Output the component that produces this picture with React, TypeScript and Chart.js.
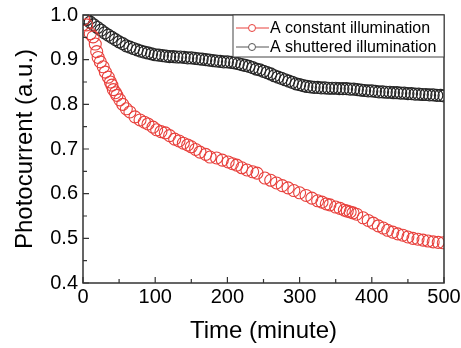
import React, { useEffect, useRef } from "react";
import { Chart, registerables } from "chart.js";

Chart.register(...registerables);

const constantX = [1, 5, 10, 14, 17, 19, 21, 24, 28, 31, 35, 38, 40, 42, 45, 47, 51, 55, 60, 65, 72, 79, 85, 90, 97, 102, 108, 114, 120, 127, 133, 139, 145, 150, 156, 162, 170, 176, 185, 193, 201, 207, 213, 220, 227, 235, 241, 252, 260, 268, 276, 284, 292, 300, 309, 317, 325, 331, 337, 342, 350, 356, 362, 366, 370, 374, 379, 388, 395, 402, 409, 416, 422, 429, 436, 443, 450, 457, 464, 471, 478, 485, 492, 499];
const constantY = [0.99, 0.978, 0.958, 0.951, 0.935, 0.918, 0.905, 0.895, 0.884, 0.872, 0.861, 0.85, 0.843, 0.833, 0.826, 0.82, 0.81, 0.8, 0.79, 0.783, 0.772, 0.765, 0.76, 0.756, 0.749, 0.743, 0.739, 0.736, 0.73, 0.722, 0.718, 0.713, 0.709, 0.705, 0.699, 0.693, 0.688, 0.682, 0.68, 0.675, 0.671, 0.667, 0.664, 0.658, 0.653, 0.649, 0.646, 0.635, 0.63, 0.624, 0.618, 0.613, 0.607, 0.602, 0.596, 0.59, 0.584, 0.581, 0.577, 0.575, 0.57, 0.567, 0.563, 0.561, 0.559, 0.557, 0.554, 0.546, 0.54, 0.534, 0.528, 0.523, 0.518, 0.514, 0.51, 0.507, 0.503, 0.5, 0.498, 0.496, 0.494, 0.492, 0.491, 0.49];

const shutteredX = [3, 5, 10, 15, 20, 25, 30, 35, 40, 45, 50, 55, 60, 65, 70, 75, 80, 85, 90, 95, 100, 105, 110, 115, 120, 125, 130, 135, 140, 145, 150, 155, 160, 165, 170, 175, 180, 185, 190, 195, 200, 205, 210, 215, 220, 225, 230, 235, 240, 245, 250, 255, 260, 265, 270, 275, 280, 285, 290, 295, 300, 305, 310, 315, 320, 325, 330, 335, 340, 345, 350, 355, 360, 365, 370, 375, 380, 385, 390, 395, 400, 405, 410, 415, 420, 425, 430, 435, 440, 445, 450, 455, 460, 465, 470, 475, 480, 485, 490, 495, 500];
const shutteredY = [0.993, 0.99, 0.984, 0.978, 0.972, 0.966, 0.96, 0.955, 0.95, 0.945, 0.94, 0.936, 0.931, 0.928, 0.925, 0.922, 0.919, 0.917, 0.915, 0.913, 0.911, 0.91, 0.909, 0.908, 0.907, 0.907, 0.906, 0.906, 0.905, 0.904, 0.904, 0.903, 0.902, 0.901, 0.9, 0.899, 0.898, 0.897, 0.896, 0.895, 0.895, 0.894, 0.893, 0.891, 0.889, 0.887, 0.885, 0.882, 0.879, 0.877, 0.874, 0.871, 0.868, 0.864, 0.861, 0.858, 0.855, 0.852, 0.849, 0.846, 0.844, 0.842, 0.84, 0.839, 0.838, 0.838, 0.837, 0.837, 0.836, 0.836, 0.836, 0.835, 0.835, 0.835, 0.834, 0.834, 0.833, 0.832, 0.831, 0.83, 0.83, 0.829, 0.828, 0.828, 0.827, 0.827, 0.826, 0.826, 0.825, 0.825, 0.824, 0.824, 0.823, 0.823, 0.822, 0.822, 0.821, 0.821, 0.82, 0.82, 0.819];

const seriesNames = ["A constant illumination", "A shuttered illumination"];
const xTitle = "Time (minute)";
const yTitle = "Photocurrent (a.u.)";

const RED = "#e8403c";
const DARK = "#262626";
const FONT = "'Liberation Sans', Arial, sans-serif";

const framePlugin = {
  id: "frame",
  afterDatasetsDraw(chart: any) {
    const { ctx, chartArea } = chart;
    const { left, right, top, bottom } = chartArea;
    const xs = chart.scales.x;
    const ys = chart.scales.y;
    ctx.save();
    ctx.strokeStyle = "#333";
    ctx.lineWidth = 1.5;
    ctx.strokeRect(left, top, right - left, bottom - top);
    ctx.lineWidth = 1.2;
    ctx.beginPath();
    for (let v = 0; v <= 500; v += 50) {
      const px = xs.getPixelForValue(v);
      const len = v % 100 === 0 ? 6 : 4;
      ctx.moveTo(px, bottom);
      ctx.lineTo(px, bottom - len);
    }
    for (let i = 0; i <= 12; i++) {
      const v = 0.4 + i * 0.05;
      const py = ys.getPixelForValue(v);
      const len = i % 2 === 0 ? 6 : 4;
      ctx.moveTo(left, py);
      ctx.lineTo(left + len, py);
    }
    ctx.stroke();

    // legend
    const bx = right - 211;
    const by = top;
    const bw = 211;
    const bh = 42;
    ctx.fillStyle = "#fff";
    ctx.fillRect(bx, by, bw, bh);
    ctx.lineWidth = 1;
    ctx.strokeStyle = "#444";
    ctx.strokeRect(bx, by, bw, bh);
    const rows = [
      { name: seriesNames[0], color: RED, y: by + 13 },
      { name: seriesNames[1], color: "#555", y: by + 32 },
    ];
    ctx.font = `16px ${FONT}`;
    ctx.textBaseline = "middle";
    ctx.textAlign = "left";
    for (const r of rows) {
      ctx.strokeStyle = r.color;
      ctx.lineWidth = 1;
      ctx.beginPath();
      ctx.moveTo(bx + 3, r.y);
      ctx.lineTo(bx + 15, r.y);
      ctx.moveTo(bx + 23, r.y);
      ctx.lineTo(bx + 36, r.y);
      ctx.stroke();
      ctx.beginPath();
      ctx.arc(bx + 19, r.y, 3.5, 0, Math.PI * 2);
      ctx.stroke();
      ctx.fillStyle = "#000";
      ctx.fillText(r.name, bx + 37, r.y + 1);
    }
    ctx.restore();
  },
};

export default function App() {
  const ref = useRef<HTMLCanvasElement>(null);
  useEffect(() => {
    document.body.style.margin = "0";
    const canvas = ref.current!;
    const chart = new Chart(canvas, {
      type: "scatter",
      data: {
        datasets: [
          {
            label: seriesNames[0],
            data: constantX.map((x, i) => ({ x, y: constantY[i] })),
            borderColor: RED,
            backgroundColor: "rgba(0,0,0,0)",
            pointRadius: 6,
            pointBorderWidth: 1.1,
            showLine: false,
            order: 1,
          },
          {
            label: seriesNames[1],
            data: shutteredX.map((x, i) => ({ x, y: shutteredY[i] })),
            borderColor: DARK,
            backgroundColor: "rgba(0,0,0,0)",
            pointRadius: 6,
            pointBorderWidth: 1.2,
            showLine: false,
            order: 2,
          },
        ],
      },
      options: {
        animation: false,
        responsive: false,
        devicePixelRatio: 1,
        layout: { padding: { top: 15, right: 17, left: 0, bottom: 0 } },
        plugins: { legend: { display: false }, tooltip: { enabled: false } },
        scales: {
          x: {
            type: "linear",
            min: 0,
            max: 500,
            grid: { display: false, drawTicks: false },
            border: { display: false },
            ticks: {
              stepSize: 100,
              padding: 2,
              color: "#000",
              font: { family: FONT, size: 20 },
              maxRotation: 0,
            },
            title: {
              display: true,
              text: xTitle,
              color: "#000",
              font: { family: FONT, size: 24 },
              padding: { top: 0, bottom: 2 },
            },
            afterFit(scale: any) {
              scale.height = 65;
              scale.paddingLeft = 0;
              scale.paddingRight = 0;
            },
          },
          y: {
            type: "linear",
            min: 0.4,
            max: 1.0,
            grid: { display: false, drawTicks: false },
            border: { display: false },
            ticks: {
              stepSize: 0.1,
              padding: 5,
              color: "#000",
              font: { family: FONT, size: 20 },
              callback: (v: any) => Number(v).toFixed(1),
            },
            title: {
              display: true,
              text: yTitle,
              color: "#000",
              font: { family: FONT, size: 24 },
              padding: { top: 11, bottom: 0 },
            },
            afterFit(scale: any) {
              scale.width = 83;
              scale.paddingTop = 0;
              scale.paddingBottom = 0;
            },
          },
        },
      },
      plugins: [framePlugin],
    });
    return () => chart.destroy();
  }, []);
  return (
    <div style={{ width: 461, height: 348 }}>
      <canvas ref={ref} width={461} height={348} style={{ display: "block" }} />
    </div>
  );
}
